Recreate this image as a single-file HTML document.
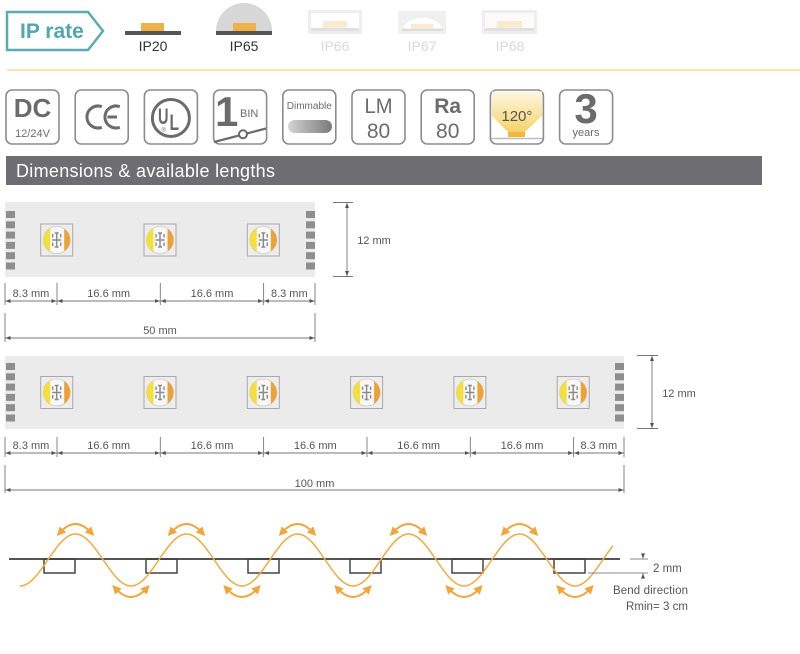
<!DOCTYPE html>
<html><head><meta charset="utf-8"><style>
html,body{margin:0;padding:0;background:#fff;width:800px;height:654px;overflow:hidden}
svg{display:block}
text{font-family:"Liberation Sans",Arial,sans-serif}
</style></head><body>
<svg width="800" height="654" viewBox="0 0 800 654" xmlns="http://www.w3.org/2000/svg">
<defs>
<marker id="da" viewBox="0 0 10 8" refX="10" refY="4" markerWidth="5" markerHeight="4" markerUnits="userSpaceOnUse" orient="auto-start-reverse"><path d="M0,0 L10,4 L0,8z" fill="#555"/></marker>
<marker id="oa" viewBox="0 0 10 10" refX="4" refY="5" markerWidth="9" markerHeight="9" markerUnits="userSpaceOnUse" orient="auto-start-reverse"><path d="M0,0 L10,5 L0,10z" fill="#f0a63a"/></marker>
<linearGradient id="pill" x1="0" y1="0" x2="1" y2="0"><stop offset="0" stop-color="#d4d4d4"/><stop offset="1" stop-color="#7a7a7a"/></linearGradient>
<linearGradient id="cone" x1="0" y1="0" x2="0" y2="1"><stop offset="0" stop-color="#fdf7e2"/><stop offset="1" stop-color="#f6d469"/></linearGradient>
<clipPath id="lc"><circle cx="0" cy="0" r="13.5"/></clipPath>
<clipPath id="wc"><rect x="0" y="500" width="613" height="120"/></clipPath>
<g id="led">
 <rect x="-16" y="-16" width="32" height="32" fill="#ededed" stroke="#a9a9a9" stroke-width="1"/>
 <circle r="13.5" fill="#f8f8f8" stroke="#cacaca" stroke-width="0.8"/>
 <g clip-path="url(#lc)"><rect x="-14" y="-14" width="7.5" height="28" fill="#f4e03a"/><rect x="7.5" y="-14" width="7" height="28" fill="#eea236"/></g>
 <path d="M0,-7V7M-4.5,0H4.5M-2,-7H2M-2,7H2M-4,-6v3.5M4,-6v3.5M-4,2.5v3.5M4,2.5v3.5" stroke="#8a8a8a" stroke-width="1.4" fill="none"/>
</g>
<g id="pads" fill="#8e8e8e">
 <rect x="0" y="0" width="9" height="7"/><rect x="0" y="10.3" width="9" height="7"/><rect x="0" y="20.6" width="9" height="7"/><rect x="0" y="30.9" width="9" height="7"/><rect x="0" y="41.2" width="9" height="7"/><rect x="0" y="51.5" width="9" height="7"/>
</g>
</defs>

<!-- IP rate -->
<path d="M7,12 H88 L103,31 L88,50 H7 Z" fill="#fff" stroke="#5aabb3" stroke-width="2.5"/>
<text x="20" y="38" font-size="21" font-weight="bold" fill="#52a6ae">IP rate</text>

<rect x="125" y="31" width="56" height="4" fill="#555"/>
<rect x="141" y="23" width="23" height="8" fill="#efb24a"/>
<text x="153" y="51" font-size="14" fill="#333" text-anchor="middle">IP20</text>

<path d="M216,31 A28,28 0 0 1 272,31 Z" fill="#d7d7d7"/>
<rect x="216" y="31" width="56" height="4" fill="#555"/>
<rect x="233" y="23" width="23" height="8" fill="#efb24a"/>
<text x="244" y="51" font-size="14" fill="#333" text-anchor="middle">IP65</text>

<rect x="308" y="10" width="54" height="24" fill="#eeeeee"/>
<rect x="311" y="13" width="48" height="15" fill="#fff"/>
<rect x="311" y="28" width="48" height="3" fill="#e0e0e0"/>
<rect x="323" y="21" width="24" height="7" fill="#faebd0"/>
<text x="335" y="51" font-size="14" fill="#d9d9d9" text-anchor="middle">IP66</text>

<rect x="398" y="11" width="48" height="23" fill="#f0f0f0"/>
<path d="M403,28 A20,13 0 0 1 442,28 Z" fill="#fff"/>
<rect x="411" y="24" width="22" height="5" fill="#faebd0"/>
<rect x="402" y="29" width="41" height="2" fill="#dcdcdc"/>
<text x="422" y="51" font-size="14" fill="#d9d9d9" text-anchor="middle">IP67</text>

<rect x="482" y="10" width="55" height="24" fill="#eeeeee"/>
<rect x="485" y="13" width="49" height="15" fill="#fdfbf7"/>
<rect x="485" y="28" width="49" height="3" fill="#e0e0e0"/>
<rect x="497" y="21" width="25" height="7" fill="#faebd0"/>
<text x="510" y="51" font-size="14" fill="#d9d9d9" text-anchor="middle">IP68</text>

<line x1="7" y1="70" x2="800" y2="70" stroke="#fcd9a2" stroke-width="1.5"/>

<!-- icons -->
<g fill="#fff" stroke="#8c8c8c" stroke-width="1.6">
<rect x="6" y="90" width="53" height="54" rx="6"/>
<rect x="75.2" y="90" width="53" height="54" rx="6"/>
<rect x="144.4" y="90" width="53" height="54" rx="6"/>
<rect x="213.6" y="90" width="53" height="54" rx="6"/>
<rect x="282.8" y="90" width="53" height="54" rx="6"/>
<rect x="352" y="90" width="53" height="54" rx="6"/>
<rect x="421.2" y="90" width="53" height="54" rx="6"/>
<rect x="490.4" y="90" width="53" height="54" rx="6"/>
<rect x="559.6" y="90" width="53" height="54" rx="6"/>
</g>
<g fill="#6b6b6b">
<text x="32.5" y="117" font-size="26" font-weight="bold" text-anchor="middle">DC</text>
<text x="32.5" y="137" font-size="11" text-anchor="middle">12/24V</text>
</g>
<path d="M101.8,106.7 A11,11 0 1 0 101.8,127.3 M119.8,106.7 A11,11 0 1 0 119.8,127.3 M107.5,117 H117" fill="none" stroke="#6b6b6b" stroke-width="3"/>
<circle cx="170.9" cy="118" r="18.5" fill="none" stroke="#6b6b6b" stroke-width="3"/>
<text x="158" y="124" font-size="22" font-weight="bold" fill="#6b6b6b" textLength="10.5" lengthAdjust="spacingAndGlyphs">U</text>
<text x="169.5" y="130" font-size="22" font-weight="bold" fill="#6b6b6b" textLength="9.5" lengthAdjust="spacingAndGlyphs">L</text>
<text x="161.5" y="132" font-size="6" fill="#6b6b6b">®</text>

<text x="215" y="126" font-size="42" font-weight="bold" fill="#6b6b6b">1</text>
<text x="240" y="117" font-size="11" fill="#6b6b6b">BIN</text>
<path d="M214,142 L266,128.5" stroke="#6b6b6b" stroke-width="2.2"/>
<circle cx="243" cy="134.3" r="4" fill="#fff" stroke="#6b6b6b" stroke-width="2"/>

<text x="309.3" y="109" font-size="10" fill="#6b6b6b" text-anchor="middle">Dimmable</text>
<rect x="288" y="120" width="44" height="13" rx="6.5" fill="url(#pill)"/>

<g fill="#6b6b6b" text-anchor="middle">
<text x="378.5" y="113" font-size="21" textLength="28" lengthAdjust="spacingAndGlyphs">LM</text>
<text x="378.5" y="138" font-size="21">80</text>
<text x="447.7" y="113" font-size="21" font-weight="bold">Ra</text>
<text x="447.7" y="138" font-size="21">80</text>
</g>
<path d="M492,91.5 H542 V116 L525,132 H508 L492,116 Z" fill="url(#cone)"/>
<text x="516.9" y="121" font-size="15" fill="#555" text-anchor="middle">120°</text>
<rect x="508" y="132" width="17" height="5" fill="#f0b93e"/>
<line x1="491.5" y1="138.5" x2="542.5" y2="138.5" stroke="#bdbdbd" stroke-width="1.5"/>
<text x="586" y="123" font-size="42" font-weight="bold" fill="#6b6b6b" text-anchor="middle">3</text>
<text x="586" y="136" font-size="11" fill="#6b6b6b" text-anchor="middle">years</text>

<!-- header bar -->
<rect x="6" y="156" width="756" height="29" fill="#6e6d72"/>
<text x="16" y="177" font-size="18" fill="#fff" textLength="259" lengthAdjust="spacing">Dimensions &amp; available lengths</text>

<!-- strip 1 -->
<rect x="5" y="202" width="310" height="75" fill="#ebebeb"/>
<use href="#pads" x="6" y="211"/>
<use href="#pads" x="306" y="211"/>
<use href="#led" x="56.7" y="240"/>
<use href="#led" x="160" y="240"/>
<use href="#led" x="263.3" y="240"/>

<g stroke="#777" stroke-width="0.9" fill="none">
<line x1="333" y1="202.5" x2="353" y2="202.5"/>
<line x1="333" y1="276.5" x2="353" y2="276.5"/>
<line x1="347" y1="203" x2="347" y2="276" marker-start="url(#da)" marker-end="url(#da)"/>
<line x1="5" y1="283" x2="5" y2="305"/>
<line x1="57" y1="283" x2="57" y2="305"/>
<line x1="160.3" y1="283" x2="160.3" y2="305"/>
<line x1="263.6" y1="283" x2="263.6" y2="305"/>
<line x1="315" y1="283" x2="315" y2="305"/>
<line x1="5.5" y1="301" x2="56.5" y2="301" marker-start="url(#da)" marker-end="url(#da)"/>
<line x1="57.5" y1="301" x2="159.8" y2="301" marker-start="url(#da)" marker-end="url(#da)"/>
<line x1="160.8" y1="301" x2="263.1" y2="301" marker-start="url(#da)" marker-end="url(#da)"/>
<line x1="264.1" y1="301" x2="314.5" y2="301" marker-start="url(#da)" marker-end="url(#da)"/>
<line x1="5" y1="313" x2="5" y2="342"/>
<line x1="315" y1="313" x2="315" y2="342"/>
<line x1="5.5" y1="338" x2="314.5" y2="338" marker-start="url(#da)" marker-end="url(#da)"/>
</g>
<g font-size="11" fill="#555" text-anchor="middle">
<text x="31" y="297">8.3 mm</text>
<text x="108.7" y="297">16.6 mm</text>
<text x="212" y="297">16.6 mm</text>
<text x="289.3" y="297">8.3 mm</text>
<text x="160" y="334">50 mm</text>
<text x="374" y="244">12 mm</text>
</g>

<!-- strip 2 -->
<rect x="5" y="356" width="619" height="73" fill="#ebebeb"/>
<use href="#pads" x="6" y="363"/>
<use href="#pads" x="615" y="363"/>
<use href="#led" x="56.7" y="392.5"/>
<use href="#led" x="160" y="392.5"/>
<use href="#led" x="263.3" y="392.5"/>
<use href="#led" x="366.6" y="392.5"/>
<use href="#led" x="469.9" y="392.5"/>
<use href="#led" x="573.2" y="392.5"/>

<g stroke="#777" stroke-width="0.9" fill="none">
<line x1="637" y1="355.5" x2="658" y2="355.5"/>
<line x1="637" y1="428.5" x2="658" y2="428.5"/>
<line x1="652" y1="356" x2="652" y2="428" marker-start="url(#da)" marker-end="url(#da)"/>
<line x1="5" y1="437" x2="5" y2="457"/>
<line x1="57" y1="437" x2="57" y2="457"/>
<line x1="160.3" y1="437" x2="160.3" y2="457"/>
<line x1="263.6" y1="437" x2="263.6" y2="457"/>
<line x1="367" y1="437" x2="367" y2="457"/>
<line x1="470.3" y1="437" x2="470.3" y2="457"/>
<line x1="573.6" y1="437" x2="573.6" y2="457"/>
<line x1="624" y1="437" x2="624" y2="457"/>
<line x1="5.5" y1="453" x2="56.5" y2="453" marker-start="url(#da)" marker-end="url(#da)"/>
<line x1="57.5" y1="453" x2="159.8" y2="453" marker-start="url(#da)" marker-end="url(#da)"/>
<line x1="160.8" y1="453" x2="263.1" y2="453" marker-start="url(#da)" marker-end="url(#da)"/>
<line x1="264.1" y1="453" x2="366.5" y2="453" marker-start="url(#da)" marker-end="url(#da)"/>
<line x1="367.5" y1="453" x2="469.8" y2="453" marker-start="url(#da)" marker-end="url(#da)"/>
<line x1="470.8" y1="453" x2="573.1" y2="453" marker-start="url(#da)" marker-end="url(#da)"/>
<line x1="574.1" y1="453" x2="623.5" y2="453" marker-start="url(#da)" marker-end="url(#da)"/>
<line x1="5" y1="465" x2="5" y2="493"/>
<line x1="624" y1="465" x2="624" y2="493"/>
<line x1="5.5" y1="490" x2="623.5" y2="490" marker-start="url(#da)" marker-end="url(#da)"/>
</g>
<g font-size="11" fill="#555" text-anchor="middle">
<text x="31" y="449">8.3 mm</text>
<text x="108.7" y="449">16.6 mm</text>
<text x="212" y="449">16.6 mm</text>
<text x="315.3" y="449">16.6 mm</text>
<text x="418.7" y="449">16.6 mm</text>
<text x="522" y="449">16.6 mm</text>
<text x="598.8" y="449">8.3 mm</text>
<text x="314.5" y="487">100 mm</text>
<text x="679" y="397">12 mm</text>
</g>

<!-- bend diagram -->
<line x1="9" y1="559" x2="620" y2="559" stroke="#555" stroke-width="2"/>
<g fill="none" stroke="#444" stroke-width="1.5">
<rect x="44" y="559" width="31" height="14"/>
<rect x="146" y="559" width="31" height="14"/>
<rect x="248" y="559" width="31" height="14"/>
<rect x="350" y="559" width="31" height="14"/>
<rect x="452" y="559" width="31" height="14"/>
<rect x="554" y="559" width="31" height="14"/>
</g>
<path clip-path="url(#wc)" d="M20,586 C40.2,586 55.3,534 75.5,534 S110.8,586 131,586 S166.3,534 186.5,534 S221.8,586 242,586 S277.3,534 297.5,534 S332.8,586 353,586 S388.3,534 408.5,534 S443.8,586 464,586 S499.3,534 519.5,534 S554.8,586 575,586 S610.3,534 630.5,534" fill="none" stroke="#f2a93b" stroke-width="1.5"/>
<g fill="none" stroke="#f0a63a" stroke-width="2" marker-start="url(#oa)" marker-end="url(#oa)">
<path d="M60.5,532 Q75.5,516 90.5,532"/>
<path d="M171.5,532 Q186.5,516 201.5,532"/>
<path d="M282.5,532 Q297.5,516 312.5,532"/>
<path d="M393.5,532 Q408.5,516 423.5,532"/>
<path d="M504.5,532 Q519.5,516 534.5,532"/>
<path d="M116,589 Q131,605 146,589"/>
<path d="M227,589 Q242,605 257,589"/>
<path d="M338,589 Q353,605 368,589"/>
<path d="M449,589 Q464,605 479,589"/>
<path d="M560,589 Q575,605 590,589"/>
</g>
<g stroke="#888" stroke-width="0.9" fill="none">
<line x1="630" y1="559" x2="648" y2="559"/>
<line x1="588" y1="573" x2="648" y2="573"/>
<line x1="643" y1="553" x2="643" y2="558.5" marker-end="url(#da)"/>
<line x1="643" y1="579" x2="643" y2="573.5" marker-end="url(#da)"/>
</g>
<g font-size="11.5" fill="#555">
<text x="653" y="572">2 mm</text>
<text x="613" y="594" textLength="75" lengthAdjust="spacing">Bend direction</text>
<text x="626" y="610" textLength="62" lengthAdjust="spacing">Rmin= 3 cm</text>
</g>
</svg>
</body></html>
